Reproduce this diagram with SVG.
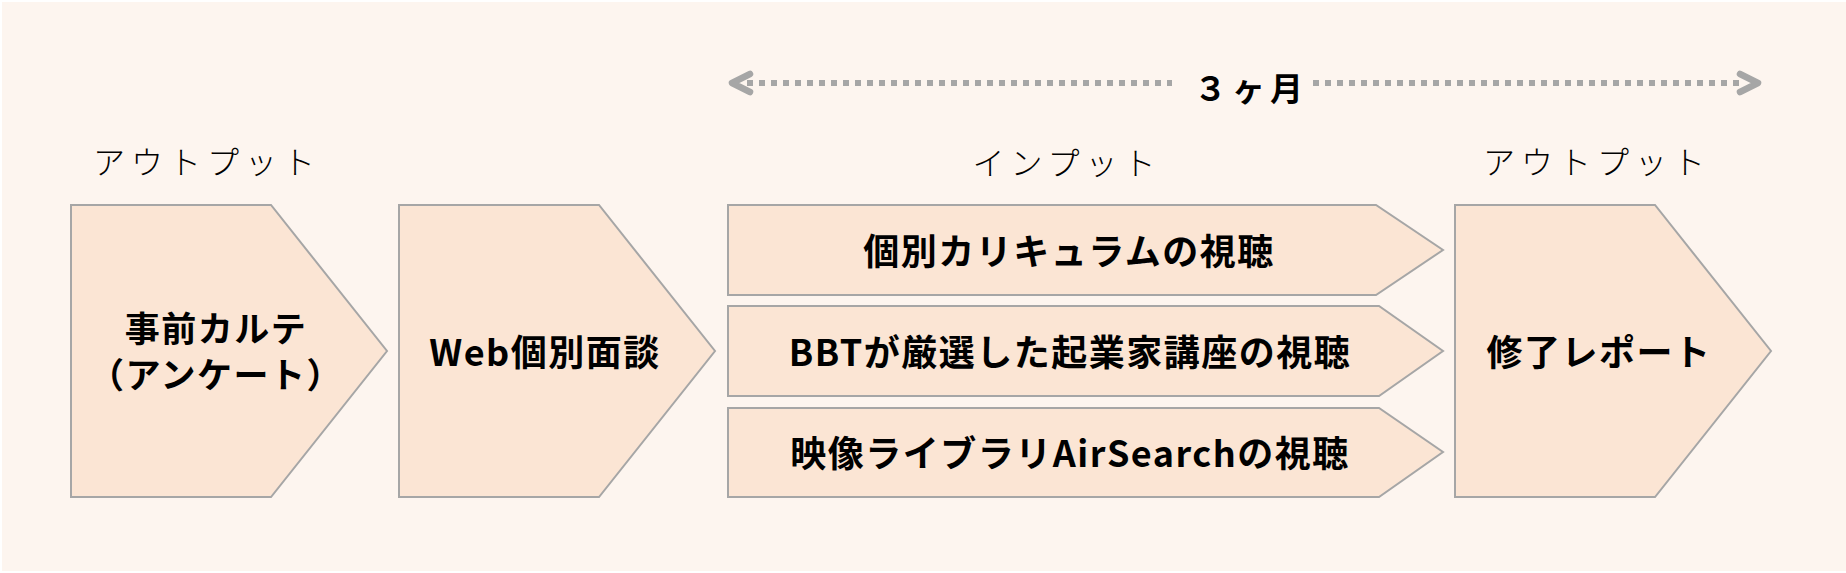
<svg xmlns="http://www.w3.org/2000/svg" width="1846" height="573" viewBox="0 0 1846 573">
  <style>
    .box { fill: #FBE5D4; stroke: #A6A6A6; stroke-width: 2; }
    .lbl { font-family: "Noto Sans CJK JP", "Noto Sans", sans-serif; font-size: 36px; font-weight: 700; fill: #000; text-anchor: middle; dominant-baseline: central; letter-spacing: 1.5px; }
    .lbl2 { font-size: 35px; }
    .stage { font-family: "Noto Sans CJK JP", "Noto Sans", sans-serif; font-size: 32px; font-weight: 300; fill: #000; text-anchor: middle; dominant-baseline: central; letter-spacing: 6px; }
    .dots { fill: none; stroke: #A6A6A6; stroke-width: 6; stroke-dasharray: 6 6; }
    .head { fill: none; stroke: #A6A6A6; stroke-width: 6.5; stroke-linecap: round; stroke-linejoin: round; }
  </style>
  <rect x="0" y="0" width="1846" height="573" fill="#FFFFFF"/>
  <rect x="2" y="2" width="1844" height="569" fill="#FDF5EF"/>

  <g id="stage-labels">
    <text class="stage" x="207" y="160">アウトプット</text>
    <text class="stage" x="1067" y="161">インプット</text>
    <text class="stage" x="1597" y="160">アウトプット</text>
  </g>

  <g id="connectors">
    <line class="dots" x1="747" y1="83" x2="1172" y2="83"/>
    <line class="dots" x1="1313" y1="83" x2="1740" y2="83"/>
    <polyline class="head" points="750,74 732,83 750,92"/>
    <polyline class="head" points="1740,74 1758,83 1740,92"/>
    <text x="1251" y="87" font-family="Noto Sans CJK JP, Noto Sans, sans-serif" font-size="33" font-weight="700" text-anchor="middle" dominant-baseline="central" letter-spacing="5">３ヶ月</text>
  </g>

  <g id="node-karte">
    <polygon class="box" points="71,205 271,205 387,351 271,497 71,497"/>
    <text class="lbl lbl2" x="216" y="326">事前カルテ</text>
    <text class="lbl lbl2" x="216" y="372">（アンケート）</text>
  </g>

  <g id="node-web">
    <polygon class="box" points="399,205 599,205 715,351 599,497 399,497"/>
    <text class="lbl" x="545" y="350">Web個別面談</text>
  </g>

  <g id="node-curriculum">
    <polygon class="box" points="728,205 1376,205 1443,250 1376,295 728,295"/>
    <text class="lbl" x="1069" y="249">個別カリキュラムの視聴</text>
  </g>

  <g id="node-bbt">
    <polygon class="box" points="728,306 1379,306 1443,351 1379,396 728,396"/>
    <text class="lbl" x="1070" y="350">BBTが厳選した起業家講座の視聴</text>
  </g>

  <g id="node-airsearch">
    <polygon class="box" points="728,408 1379,408 1443,452 1379,497 728,497"/>
    <text class="lbl" x="1070" y="451">映像ライブラリAirSearchの視聴</text>
  </g>

  <g id="node-report">
    <polygon class="box" points="1455,205 1655,205 1771,351 1655,497 1455,497"/>
    <text class="lbl" x="1599" y="350">修了レポート</text>
  </g>
</svg>
